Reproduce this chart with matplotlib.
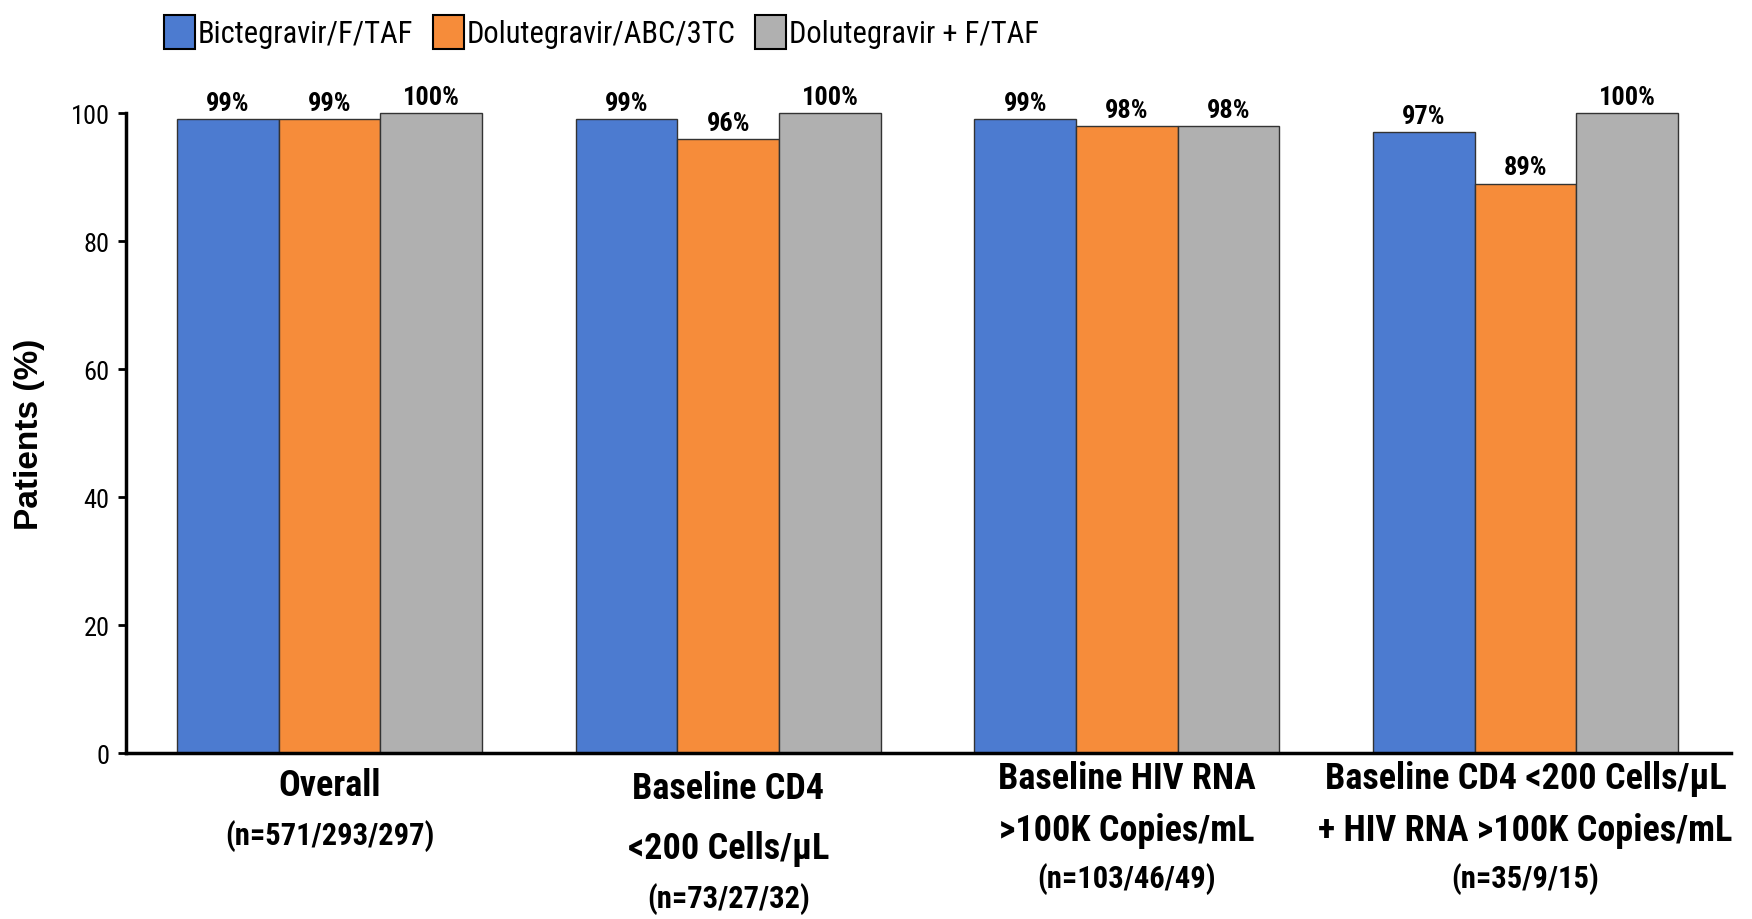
import numpy as np
import matplotlib
matplotlib.use('Agg')
import matplotlib.pyplot as plt
from matplotlib.patches import Patch

# data
groups = ['Overall', 'Baseline CD4 <200', 'Baseline HIV RNA >100K', 'CD4 <200 + RNA >100K']
group_lines = [
    ['Overall', '(n=571/293/297)'],
    ['Baseline CD4', '<200 Cells/µL', '(n=73/27/32)'],
    ['Baseline HIV RNA', '>100K Copies/mL', '(n=103/46/49)'],
    ['Baseline CD4 <200 Cells/µL', '+ HIV RNA >100K Copies/mL', '(n=35/9/15)'],
]
series_names = ['Bictegravir/F/TAF', 'Dolutegravir/ABC/3TC', 'Dolutegravir + F/TAF']
bic = [99, 99, 99, 97]
dtg_abc = [99, 96, 98, 89]
dtg_ftaf = [100, 100, 98, 100]
y_ticks = [0, 20, 40, 60, 80, 100]

colors = ['#4C7BD0', '#F68C3A', '#B0B0B0']
NARROW = ['Roboto Condensed', 'Liberation Sans', 'DejaVu Sans']
SANS = ['Liberation Sans', 'DejaVu Sans']

# vertical offsets (points below the axis) for each line of the category labels
line_offsets = [[23, 59], [25, 68, 104], [18, 55, 90], [18, 55, 90]]

fig = plt.figure(figsize=(17.52, 9.2), dpi=100)
ax = fig.add_axes([0.072, 0.180, 0.916, 0.696])

x = np.arange(len(groups))
width = 0.255
for i, (vals, col) in enumerate(zip([bic, dtg_abc, dtg_ftaf], colors)):
    bars = ax.bar(x + (i - 1) * width, vals, width, color=col,
                  edgecolor='#333333', linewidth=1.0, clip_on=False)
    ax.bar_label(bars, labels=[f'{v}%' for v in vals], padding=3,
                 fontsize=19, fontweight='bold', family=NARROW)

ax.set_xlim(-0.51, 3.515)
ax.set_ylim(0, 100)
ax.set_yticks(y_ticks)
ax.set_yticklabels([str(t) for t in y_ticks], fontsize=19, family=NARROW)
ax.set_xticks([])
ax.tick_params(axis='y', direction='out', length=6, width=2, pad=6)

for s in ['top', 'right']:
    ax.spines[s].set_visible(False)
for s in ['left', 'bottom']:
    ax.spines[s].set_linewidth(2.5)

ax.set_ylabel('Patients (%)', fontsize=24, fontweight='bold', family=SANS, labelpad=18)

# category labels under the axis
for gi, lines in enumerate(group_lines):
    for li, txt in enumerate(lines):
        is_n = txt.startswith('(n=')
        ax.annotate(txt, xy=(x[gi], 0), xycoords=('data', 'axes fraction'),
                    xytext=(0, -line_offsets[gi][li]), textcoords='offset points',
                    ha='center', va='center', fontweight='bold', family=NARROW,
                    fontsize=22 if is_n else 26, annotation_clip=False)

handles = [Patch(facecolor=c, edgecolor='black', linewidth=1.5) for c in colors]
fig.legend(handles, series_names, loc='upper left', bbox_to_anchor=(0.078, 1.012),
           ncol=3, frameon=False, prop={'family': NARROW, 'size': 22},
           handlelength=1.0, handleheight=1.3, handletextpad=0.1, columnspacing=0.65)

fig.savefig('out.png', dpi=100)
